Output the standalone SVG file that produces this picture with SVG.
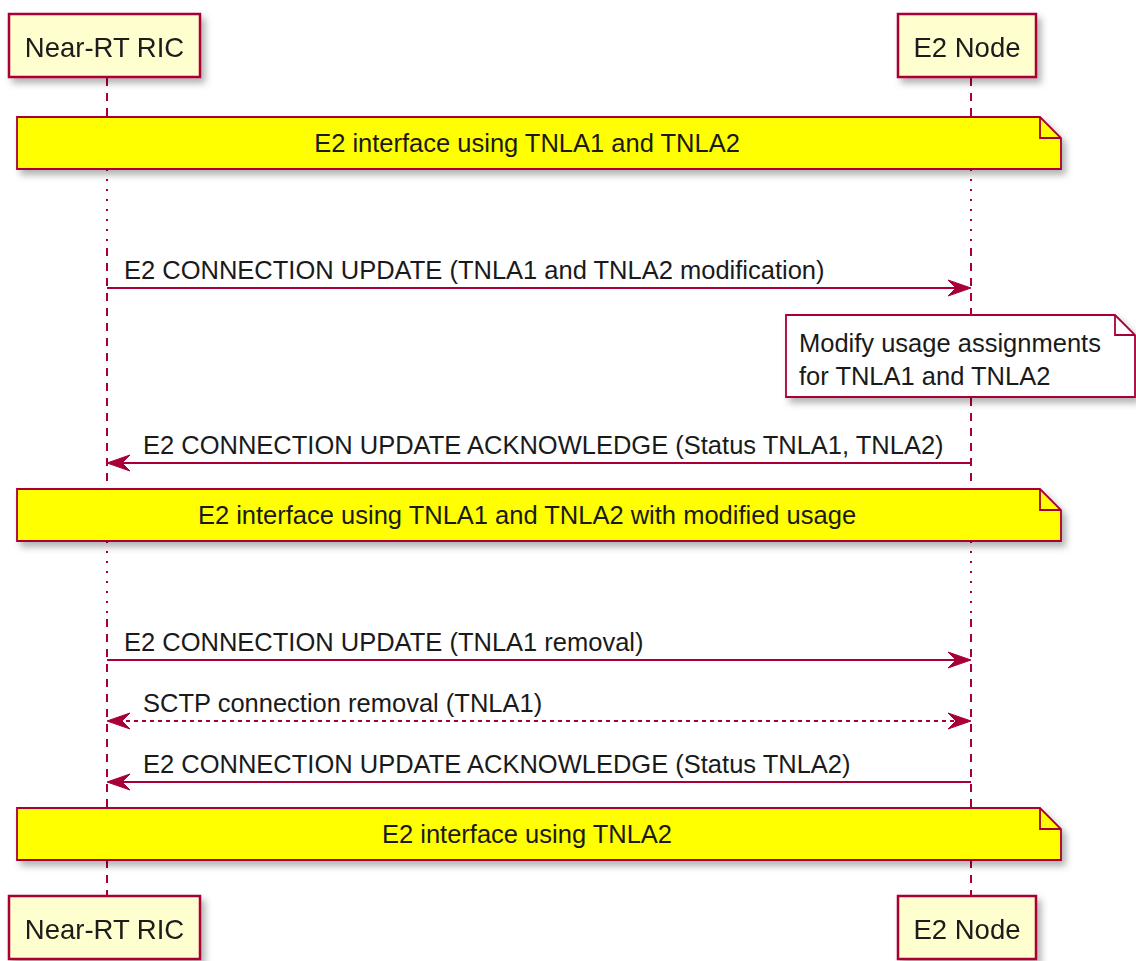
<svg xmlns="http://www.w3.org/2000/svg" width="1136" height="961" viewBox="0 0 1136 961">
<style>
.part{fill:#FEFECE;stroke:#A80036;stroke-width:2.5}
.ptxt{font-family:"Liberation Sans",Arial,sans-serif;font-size:27.5px;fill:#1a1a1a;text-anchor:middle}
.txt{font-family:"Liberation Sans",Arial,sans-serif;font-size:25.5px;fill:#1a1a1a}
.mid{text-anchor:middle}
.note{fill:#FFFF00;stroke:#A80036;stroke-width:1.8}
.wnote{fill:#FFFFFF;stroke:#A80036;stroke-width:1.8}
.fold{fill:none;stroke:#A80036;stroke-width:1.8}
.dash{stroke:#A80036;stroke-width:2;stroke-dasharray:8 7;fill:none}
.dot{stroke:#A80036;stroke-width:2;stroke-dasharray:2 8;fill:none}
.msg{stroke:#A80036;stroke-width:2;fill:none}
.msgd{stroke:#A80036;stroke-width:2;fill:none;stroke-dasharray:4 4}
.head{fill:#A80036;stroke:#A80036;stroke-width:1}
</style>
<defs>
<filter id="sh" x="-10%" y="-30%" width="130%" height="180%">
<feDropShadow dx="4" dy="5" stdDeviation="3.5" flood-color="#000" flood-opacity="0.3"/>
</filter>
</defs>
<rect width="1136" height="961" fill="#FFFFFF"/>
<g id="lifelines">
<path class="dash" d="M107,78 V117 M971,78 V117"/>
<path class="dot" d="M107,169 V248 M971,169 V248"/>
<path class="dash" d="M107,248 V489 M971,248 V489"/>
<path class="dot" d="M107,541 V619 M971,541 V619"/>
<path class="dash" d="M107,619 V808 M971,619 V808"/>
<path class="dash" d="M107,860 V896 M971,860 V896"/>
</g>
<g id="p-ric-top" filter="url(#sh)">
<rect class="part" x="9" y="14" width="191" height="63"/>
<text class="ptxt" x="104.5" y="57">Near-RT RIC</text>
</g>
<g id="p-e2-top" filter="url(#sh)">
<rect class="part" x="898" y="14" width="138" height="63"/>
<text class="ptxt" x="967" y="57">E2 Node</text>
</g>
<g id="note1">
<path class="note" filter="url(#sh)" d="M17,117 H1040 L1061,138 V169 H17 Z"/>
<path class="fold" d="M1040,117 V138 H1061"/>
<text class="txt mid" x="527" y="152">E2 interface using TNLA1 and TNLA2</text>
</g>
<g id="note2">
<path class="wnote" filter="url(#sh)" d="M786,315 H1115 L1135,335 V397 H786 Z"/>
<path class="fold" d="M1115,315 V335 H1135"/>
<text class="txt" x="799" y="352">Modify usage assignments</text>
<text class="txt" x="799" y="385">for TNLA1 and TNLA2</text>
</g>
<g id="note3">
<path class="note" filter="url(#sh)" d="M17,489 H1040 L1061,510 V541 H17 Z"/>
<path class="fold" d="M1040,489 V510 H1061"/>
<text class="txt mid" x="527" y="524">E2 interface using TNLA1 and TNLA2 with modified usage</text>
</g>
<g id="note4">
<path class="note" filter="url(#sh)" d="M17,808 H1040 L1061,829 V860 H17 Z"/>
<path class="fold" d="M1040,808 V829 H1061"/>
<text class="txt mid" x="527" y="843">E2 interface using TNLA2</text>
</g>
<g id="connectors">
<path class="msg" d="M107,288 H962"/>
<polygon class="head" points="971,288 948,280 956,288 948,296"/>
<text class="txt" x="124" y="279">E2 CONNECTION UPDATE (TNLA1 and TNLA2 modification)</text>

<path class="msg" d="M116,463 H971"/>
<polygon class="head" points="107,463 130,455 122,463 130,471"/>
<text class="txt" x="143" y="454">E2 CONNECTION UPDATE ACKNOWLEDGE (Status TNLA1, TNLA2)</text>

<path class="msg" d="M107,660 H962"/>
<polygon class="head" points="971,660 948,652 956,660 948,668"/>
<text class="txt" x="124" y="651">E2 CONNECTION UPDATE (TNLA1 removal)</text>

<path class="msgd" d="M118,721 H960"/>
<polygon class="head" points="107,721 130,713 122,721 130,729"/>
<polygon class="head" points="971,721 948,713 956,721 948,729"/>
<text class="txt" x="143" y="712">SCTP connection removal (TNLA1)</text>

<path class="msg" d="M116,782 H971"/>
<polygon class="head" points="107,782 130,774 122,782 130,790"/>
<text class="txt" x="143" y="773">E2 CONNECTION UPDATE ACKNOWLEDGE (Status TNLA2)</text>
</g>
<g id="p-ric-bottom" filter="url(#sh)">
<rect class="part" x="9" y="896" width="191" height="63"/>
<text class="ptxt" x="104.5" y="939">Near-RT RIC</text>
</g>
<g id="p-e2-bottom" filter="url(#sh)">
<rect class="part" x="898" y="896" width="138" height="63"/>
<text class="ptxt" x="967" y="939">E2 Node</text>
</g>
</svg>
